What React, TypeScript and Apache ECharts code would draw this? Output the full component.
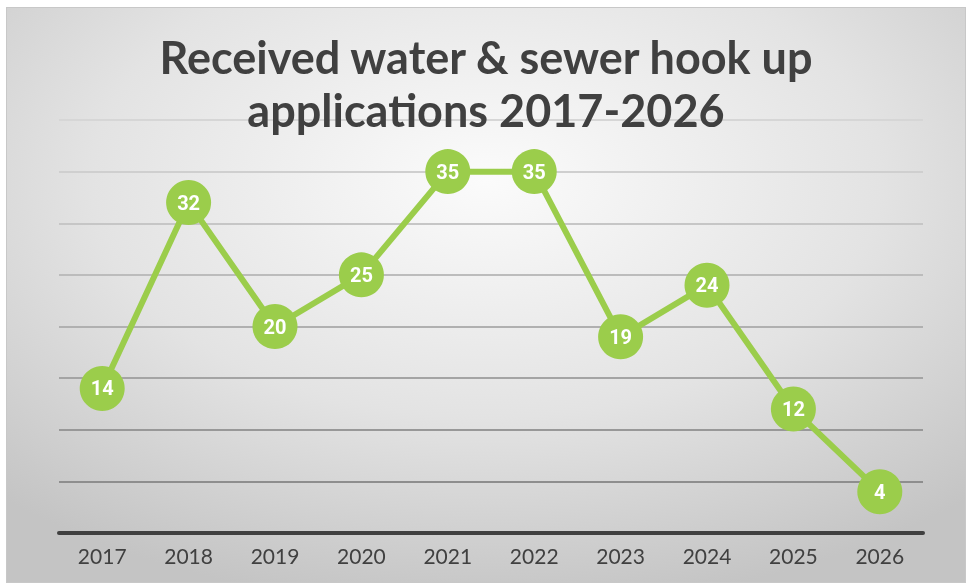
import React, { useEffect, useRef } from "react";
import * as echarts from "echarts";

const years = ["2017", "2018", "2019", "2020", "2021", "2022", "2023", "2024", "2025", "2026"];
const applications = [14, 32, 20, 25, 35, 35, 19, 24, 12, 4];
const titleLines = ["Received water & sewer hook up", "applications 2017-2026"];
const gridColors = ["#8a8a8a", "#8e8e8e", "#989898", "#a4a4a4", "#b0b0b0", "#bcbcbc", "#c6c6c6", "#cfcfcf", "#d6d6d6"];

export default function App() {
  const ref = useRef<HTMLDivElement>(null);
  useEffect(() => {
    if (!ref.current) return;
    const chart = echarts.init(ref.current, undefined, { renderer: "svg" });
    chart.setOption({
      animation: false,
      backgroundColor: new echarts.graphic.RadialGradient(0.5, 0.3, 0.75, [
        { offset: 0, color: "#fbfbfb" },
        { offset: 0.55, color: "#e3e3e3" },
        { offset: 1, color: "#c4c4c4" },
      ]),
      title: {
        text: titleLines.join("\n"),
        left: "center",
        top: 17,
        textStyle: {
          fontFamily: "Lato",
          fontWeight: "bold",
          fontSize: 45,
          lineHeight: 53,
          color: "#404040",
        },
      },
      grid: { left: 52, right: 42, top: 112, bottom: 49 },
      xAxis: {
        type: "category",
        data: years,
        axisLine: { lineStyle: { color: "#404040", width: 4 } },
        axisTick: { show: false },
        axisLabel: { fontFamily: "Lato", fontSize: 21, color: "#404040", margin: 12 },
      },
      yAxis: {
        type: "value",
        min: 0,
        max: 40,
        interval: 5,
        axisLabel: { show: false },
        axisLine: { show: false },
        axisTick: { show: false },
        splitLine: { lineStyle: { color: gridColors, width: 2 } },
      },
      series: [
        {
          type: "line",
          data: applications,
          symbol: "circle",
          symbolSize: 45,
          lineStyle: { color: "#9bcd4b", width: 6 },
          itemStyle: { color: "#9bcd4b" },
          label: {
            show: true,
            position: "inside",
            color: "#ffffff",
            fontFamily: "Roboto",
            fontWeight: "bold",
            fontSize: 20,
          },
        },
      ],
    });
    return () => chart.dispose();
  }, []);
  return (
    <div
      ref={ref}
      style={{
        position: "fixed",
        left: 6,
        top: 7,
        width: 960,
        height: 576,
        boxSizing: "border-box",
        border: "1px solid #c8c8c8",
      }}
    />
  );
}
